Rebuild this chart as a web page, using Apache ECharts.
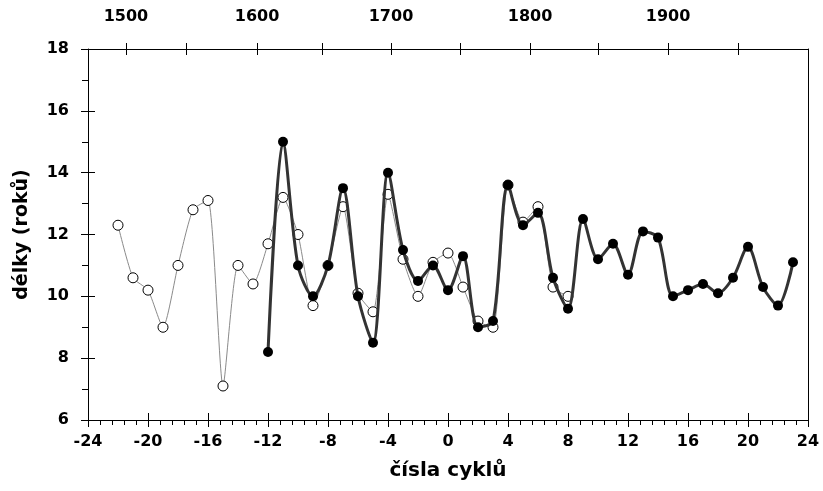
<!DOCTYPE html>
<html>
<head>
<meta charset="utf-8">
<script src="https://cdn.jsdelivr.net/npm/echarts@6/dist/echarts.min.js"></script>
<style>
	html, body { margin: 0; padding: 0; background: #fff; }
	#container { width: 823px; height: 491px; }
</style>
</head>
<body>
<div id="container"></div>
<script>
// číslo cyklu, délka cyklu (otevřené kroužky)
var openCycles = [-22, -21, -20, -19, -18, -17, -16, -15, -14, -13, -12, -11, -10, -9, -8, -7, -6, -5, -4, -3, -2, -1, 0, 1, 2, 3, 4, 5, 6, 7, 8];
var openLengths = [12.3, 10.6, 10.2, 9.0, 11.0, 12.8, 13.1, 7.1, 11.0, 10.4, 11.7, 13.2, 12.0, 9.7, 11.0, 12.9, 10.1, 9.5, 13.3, 11.2, 10.0, 11.1, 11.4, 10.3, 9.2, 9.0, 13.6, 12.4, 12.9, 10.3, 10.0];

// plné body
var fullCycles = [-12, -11, -10, -9, -8, -7, -6, -5, -4, -3, -2, -1, 0, 1, 2, 3, 4, 5, 6, 7, 8, 9, 10, 11, 12, 13, 14, 15, 16, 17, 18, 19, 20, 21, 22, 23];
var fullLengths = [8.2, 15.0, 11.0, 10.0, 11.0, 13.5, 10.0, 8.5, 14.0, 11.5, 10.5, 11.0, 10.2, 11.3, 9.0, 9.2, 13.6, 12.3, 12.7, 10.6, 9.6, 12.5, 11.2, 11.7, 10.7, 12.1, 11.9, 10.0, 10.2, 10.4, 10.1, 10.6, 11.6, 10.3, 9.7, 11.1];

// horní osa: roky a kde leží na ose čísel cyklů
var years = [1500, 1550, 1600, 1650, 1700, 1750, 1800, 1850, 1900, 1950];
var yearAt = [-21.47, -17.47, -12.73, -8.4, -3.8, 0.8, 5.47, 10.0, 14.67, 19.33];
var yearLabels = [1500, 1600, 1700, 1800, 1900];

var FONT = 'DejaVu Sans';

function zip(xs, ys) {
	var out = [];
	for (var i = 0; i < xs.length; i++) out.push([xs[i], ys[i]]);
	return out;
}

var labelAt = yearLabels.map(function (y) { return yearAt[years.indexOf(y)]; });

var dom = document.getElementById('container');
var myChart = echarts.init(dom, null, { renderer: 'canvas' });

var axisLine = { show: true, onZero: false, lineStyle: { color: '#000', width: 1 } };
var noLine = { show: false, onZero: false };
var labelStyle = { color: '#000', fontFamily: FONT, fontWeight: 'bold', fontSize: 16 };

var option = {
	backgroundColor: '#fff',
	animation: false,
	grid: { left: 88, right: 15, top: 49, bottom: 71 },
	xAxis: [{
			type: 'value',
			position: 'bottom',
			min: -24,
			max: 24,
			interval: 4,
			axisLine: axisLine,
			axisTick: { show: true, inside: false, length: 7, lineStyle: { color: '#000' } },
			minorTick: { show: true, splitNumber: 5, length: 5, lineStyle: { color: '#000' } },
			splitLine: { show: false },
			axisLabel: Object.assign({ margin: 14 }, labelStyle),
			name: 'čísla cyklů',
			nameLocation: 'middle',
			nameGap: 41,
			nameTextStyle: { color: '#000', fontFamily: FONT, fontWeight: 'bold', fontSize: 20 }
		},
		{
			// vnitřní část hlavních značek
			type: 'value',
			position: 'bottom',
			min: -24,
			max: 24,
			interval: 4,
			axisLine: noLine,
			axisTick: { show: true, inside: true, length: 7, lineStyle: { color: '#000' } },
			splitLine: { show: false },
			axisLabel: { show: false }
		},
		{
			type: 'value',
			position: 'top',
			min: -24,
			max: 24,
			axisLine: axisLine,
			axisTick: { show: true, inside: false, length: 6, customValues: yearAt, lineStyle: { color: '#000' } },
			splitLine: { show: false },
			axisLabel: Object.assign({
				margin: 24,
				customValues: labelAt,
				formatter: function (v) {
					var i = labelAt.indexOf(v);
					return i >= 0 ? String(yearLabels[i]) : '';
				}
			}, labelStyle)
		},
		{
			type: 'value',
			position: 'top',
			min: -24,
			max: 24,
			axisLine: noLine,
			axisTick: { show: true, inside: true, length: 6, customValues: yearAt, lineStyle: { color: '#000' } },
			splitLine: { show: false },
			axisLabel: { show: false }
		}
	],
	yAxis: [{
			type: 'value',
			position: 'left',
			min: 6,
			max: 18,
			interval: 2,
			axisLine: axisLine,
			axisTick: { show: true, inside: false, length: 7, lineStyle: { color: '#000' } },
			minorTick: { show: true, splitNumber: 2, length: 6, lineStyle: { color: '#000' } },
			splitLine: { show: false },
			axisLabel: Object.assign({ margin: 19 }, labelStyle),
			name: 'délky (roků)',
			nameLocation: 'middle',
			nameRotate: 90,
			nameGap: 56,
			nameTextStyle: { color: '#000', fontFamily: FONT, fontWeight: 'bold', fontSize: 19 }
		},
		{
			type: 'value',
			position: 'left',
			min: 6,
			max: 18,
			interval: 2,
			axisLine: noLine,
			axisTick: { show: true, inside: true, length: 7, lineStyle: { color: '#000' } },
			splitLine: { show: false },
			axisLabel: { show: false }
		},
		{
			type: 'value',
			position: 'right',
			min: 6,
			max: 18,
			axisLine: axisLine,
			axisTick: { show: false },
			splitLine: { show: false },
			axisLabel: { show: false }
		}
	],
	series: [{
			name: 'open',
			type: 'line',
			smooth: 0.2,
			data: zip(openCycles, openLengths),
			symbol: 'circle',
			symbolSize: 10,
			showAllSymbol: true,
			lineStyle: { color: '#8a8a8a', width: 1 },
			itemStyle: { color: '#fff', borderColor: '#000', borderWidth: 1 },
			z: 2
		},
		{
			name: 'full',
			type: 'line',
			smooth: 0.3,
			data: zip(fullCycles, fullLengths),
			symbol: 'circle',
			symbolSize: 10,
			showAllSymbol: true,
			lineStyle: { color: '#333', width: 3 },
			itemStyle: { color: '#000', borderColor: '#000', borderWidth: 0 },
			z: 3
		}
	]
};

myChart.setOption(option);
</script>
</body>
</html>
